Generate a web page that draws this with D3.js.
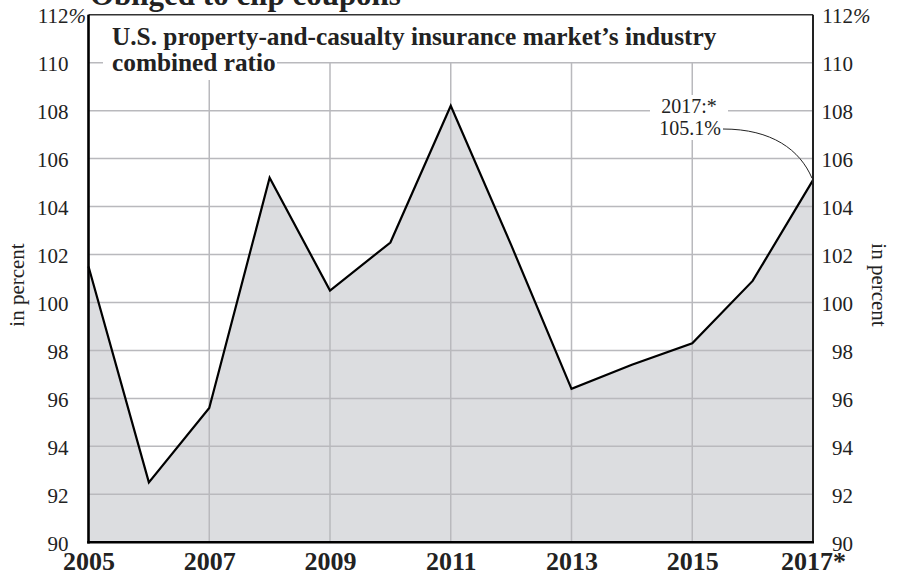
<!DOCTYPE html>
<html>
<head>
<meta charset="utf-8">
<script src="https://cdn.jsdelivr.net/npm/d3@7"></script>
<style>
  body { margin: 0; background: #fff; }
  svg { display: block; font-family: "Liberation Serif", "DejaVu Serif", serif; }
</style>
</head>
<body>
<div id="chart"></div>
<script>
// Data
const years = [2005, 2006, 2007, 2008, 2009, 2010, 2011, 2012, 2013, 2014, 2015, 2016, 2017];
const ratios = [101.5, 92.5, 95.6, 105.2, 100.5, 102.5, 108.2, 102.4, 96.4, 97.4, 98.3, 100.9, 105.1];
const yTicks = [90, 92, 94, 96, 98, 100, 102, 104, 106, 108, 110, 112];
const xTicks = [2005, 2007, 2009, 2011, 2013, 2015, 2017];
const xTickLabels = ["2005", "2007", "2009", "2011", "2013", "2015", "2017*"];

const width = 898, height = 574;
const plot = { left: 88.5, right: 813, top: 14.7, bottom: 542.3 };
const ink = "#222";
const serif = "'Liberation Serif', 'DejaVu Serif', serif";

const svg = d3.select("#chart").append("svg")
  .attr("width", width)
  .attr("height", height);

const x = d3.scaleLinear().domain([2005, 2017]).range([plot.left, plot.right]);
const y = d3.scaleLinear().domain([90, 112]).range([plot.bottom, plot.top]);

const series = years.map((yr, i) => ({ year: yr, value: ratios[i] }));

// Shaded area under the line
svg.append("path")
  .datum(series)
  .attr("fill", "#dcdde0")
  .attr("d", d3.area().x(d => x(d.year)).y0(y(90)).y1(d => y(d.value)));

// Gridlines
svg.append("g")
  .selectAll("line")
  .data(yTicks.filter(d => d > 90 && d < 112))
  .join("line")
  .attr("x1", plot.left).attr("x2", plot.right)
  .attr("y1", d => y(d)).attr("y2", d => y(d))
  .attr("stroke", "#b9b9bd")
  .attr("stroke-width", 1.5);

svg.append("g")
  .selectAll("line")
  .data(xTicks.slice(1, -1))
  .join("line")
  .attr("x1", d => x(d)).attr("x2", d => x(d))
  .attr("y1", y(110)).attr("y2", plot.bottom)
  .attr("stroke", "#b9b9bd")
  .attr("stroke-width", 1.5);

// The line itself
svg.append("path")
  .datum(series)
  .attr("fill", "none")
  .attr("stroke", "#000")
  .attr("stroke-width", 2.2)
  .attr("stroke-linejoin", "miter")
  .attr("d", d3.line().x(d => x(d.year)).y(d => y(d.value)));

// Frame: thin top and right, heavy left and bottom
svg.append("line")
  .attr("x1", plot.left).attr("x2", plot.right)
  .attr("y1", plot.top).attr("y2", plot.top)
  .attr("stroke", "#333").attr("stroke-width", 1.5);
svg.append("line")
  .attr("x1", plot.right).attr("x2", plot.right)
  .attr("y1", plot.top).attr("y2", plot.bottom)
  .attr("stroke", "#222").attr("stroke-width", 2);
svg.append("line")
  .attr("x1", plot.left).attr("x2", plot.left)
  .attr("y1", plot.top).attr("y2", plot.bottom + 1.2)
  .attr("stroke", "#000").attr("stroke-width", 2.6);
svg.append("line")
  .attr("x1", plot.left - 1.3).attr("x2", plot.right + 1)
  .attr("y1", plot.bottom).attr("y2", plot.bottom)
  .attr("stroke", "#000").attr("stroke-width", 2.6);

// Left axis (values only)
const leftAxis = svg.append("g")
  .attr("transform", `translate(${plot.left},0)`)
  .call(d3.axisLeft(y).tickValues(yTicks).tickSize(0).tickPadding(20))
  .attr("font-family", serif);
leftAxis.select(".domain").remove();
leftAxis.selectAll("text")
  .attr("dy", "0.38em")
  .style("font-size", "21px")
  .attr("fill", ink);
leftAxis.selectAll(".tick").filter(d => d === 112).append("text")
  .attr("x", -20).attr("dy", "0.38em")
  .attr("text-anchor", "start")
  .style("font-size", "21px").style("font-style", "italic")
  .attr("fill", ink)
  .text("%");

// Right axis, numbers right-aligned
const rightAxis = svg.append("g")
  .attr("transform", `translate(${plot.right},0)`)
  .call(d3.axisRight(y).tickValues(yTicks).tickSize(0).tickPadding(40))
  .attr("font-family", serif);
rightAxis.select(".domain").remove();
rightAxis.selectAll("text")
  .attr("text-anchor", "end")
  .attr("dy", "0.38em")
  .style("font-size", "21px")
  .attr("fill", ink);
rightAxis.selectAll(".tick").filter(d => d === 112).append("text")
  .attr("x", 40).attr("dy", "0.38em")
  .attr("text-anchor", "start")
  .style("font-size", "21px").style("font-style", "italic")
  .attr("fill", ink)
  .text("%");

// Bottom axis (years)
const bottomAxis = svg.append("g")
  .attr("transform", `translate(0,${plot.bottom})`)
  .call(d3.axisBottom(x).tickValues(xTicks).tickSize(0)
    .tickFormat((d, i) => xTickLabels[i]))
  .attr("font-family", serif);
bottomAxis.select(".domain").remove();
bottomAxis.selectAll("text")
  .attr("y", 27.5)
  .attr("dy", "0")
  .style("font-size", "26px")
  .style("font-weight", "bold")
  .attr("fill", ink);

// Axis titles
svg.append("text")
  .attr("transform", `translate(24,285) rotate(-90)`)
  .attr("text-anchor", "middle")
  .style("font-size", "21px")
  .attr("fill", ink)
  .text("in percent");
svg.append("text")
  .attr("transform", `translate(872,285) rotate(90)`)
  .attr("text-anchor", "middle")
  .style("font-size", "21px")
  .attr("fill", ink)
  .text("in percent");

// Chart title (cut off at the top)
svg.append("text")
  .attr("x", 90).attr("y", 5)
  .style("font-size", "31px")
  .style("font-weight", "bold")
  .attr("fill", ink)
  .text("Obliged to clip coupons");

// Subtitle inside the plot with a white knockout
svg.append("rect")
  .attr("x", 103).attr("y", 50).attr("width", 174).attr("height", 30)
  .attr("fill", "#fff");
const sub = svg.append("text")
  .attr("x", 112).attr("y", 45)
  .style("font-size", "25.3px")
  .style("font-weight", "bold")
  .attr("fill", ink);
sub.append("tspan").attr("x", 112).text("U.S. property-and-casualty insurance market’s industry");
sub.append("tspan").attr("x", 112).attr("dy", 25.5).text("combined ratio");

// Annotation for 2017
const last = series[series.length - 1];
svg.append("rect")
  .attr("x", 650).attr("y", 95).attr("width", 78).attr("height", 45)
  .attr("fill", "#fff");
svg.append("text")
  .attr("x", 689).attr("y", 113)
  .attr("text-anchor", "middle")
  .style("font-size", "20px")
  .attr("fill", ink)
  .text("2017:*");
svg.append("text")
  .attr("x", 690).attr("y", 135)
  .attr("text-anchor", "middle")
  .style("font-size", "20px")
  .attr("fill", ink)
  .text("105.1%");
const px = x(last.year), py = y(last.value);
svg.append("path")
  .attr("d", `M723,129 C772,129 800,150 ${px - 1},${py - 2}`)
  .attr("fill", "none")
  .attr("stroke", "#222")
  .attr("stroke-width", 1);
</script>
</body>
</html>
